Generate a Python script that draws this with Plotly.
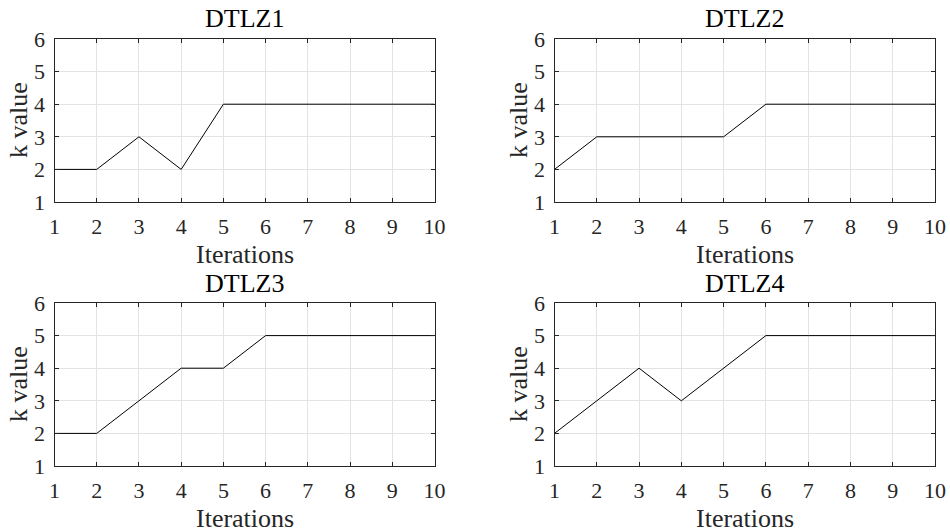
import plotly.graph_objects as go

iterations = [1, 2, 3, 4, 5, 6, 7, 8, 9, 10]
titles = ["DTLZ1", "DTLZ2", "DTLZ3", "DTLZ4"]
dtlz1 = [2, 2, 3, 2, 4, 4, 4, 4, 4, 4]
dtlz2 = [2, 3, 3, 3, 3, 4, 4, 4, 4, 4]
dtlz3 = [2, 2, 3, 4, 4, 5, 5, 5, 5, 5]
dtlz4 = [2, 3, 4, 3, 4, 5, 5, 5, 5, 5]
series = [dtlz1, dtlz2, dtlz3, dtlz4]
x_ticks = [1, 2, 3, 4, 5, 6, 7, 8, 9, 10]
y_ticks = [1, 2, 3, 4, 5, 6]

W, H = 950, 532
FONT = "Liberation Serif"

# pixel boxes (left, right, top, bottom)
boxes = [
    (54.5, 434.5, 39, 202),
    (554.5, 935, 39, 202),
    (54.5, 434.5, 303, 466),
    (554.5, 935, 303, 466),
]

fig = go.Figure()
layout = dict(
    template="none",
    width=W, height=H, margin=dict(l=0, r=0, t=0, b=0, pad=0, autoexpand=False),
    paper_bgcolor="white", plot_bgcolor="white", showlegend=False,
    font=dict(family=FONT, color="#262626", size=22),
)
annotations = []
for i, (ys, (l, r, t, b)) in enumerate(zip(series, boxes)):
    n = "" if i == 0 else str(i + 1)
    fig.add_trace(go.Scatter(x=iterations, y=ys, mode="lines",
                             line=dict(color="black", width=1),
                             xaxis="x" + n, yaxis="y" + n, hoverinfo="skip"))
    axis_common = dict(
        automargin=False,
        showgrid=True, gridcolor="#e3e3e3", gridwidth=1,
        showline=True, linecolor="#262626", linewidth=1, mirror="ticks",
        ticks="inside", ticklen=4, tickcolor="#262626",
        zeroline=False, tickfont=dict(family=FONT, size=22, color="#262626"),
    )
    layout["xaxis" + n] = dict(axis_common, domain=[l / W, r / W], range=[1, 10],
                               tickvals=x_ticks, anchor="y" + n,
                               ticklabelstandoff=5)
    layout["yaxis" + n] = dict(axis_common, domain=[1 - b / H, 1 - t / H], range=[1, 6],
                               tickvals=y_ticks, anchor="x" + n,
                               ticklabelstandoff=4)
    cx = (l + r) / 2
    annotations.append(dict(text=titles[i], x=cx / W, y=1 - (t - 20) / H,
                            xref="paper", yref="paper", showarrow=False,
                            xanchor="center", yanchor="middle",
                            font=dict(family=FONT, size=26, color="black")))
    annotations.append(dict(text="Iterations", x=cx / W, y=1 - (b + 52) / H,
                            xref="paper", yref="paper", showarrow=False,
                            xanchor="center", yanchor="middle",
                            font=dict(family=FONT, size=26, color="#262626")))
    annotations.append(dict(text="k value", x=(l - 36) / W, y=1 - ((t + b) / 2) / H,
                            xref="paper", yref="paper", showarrow=False, textangle=-90,
                            xanchor="center", yanchor="middle",
                            font=dict(family=FONT, size=26, color="#262626")))
layout["annotations"] = annotations
fig.update_layout(**layout)
fig.write_html("out.html")
